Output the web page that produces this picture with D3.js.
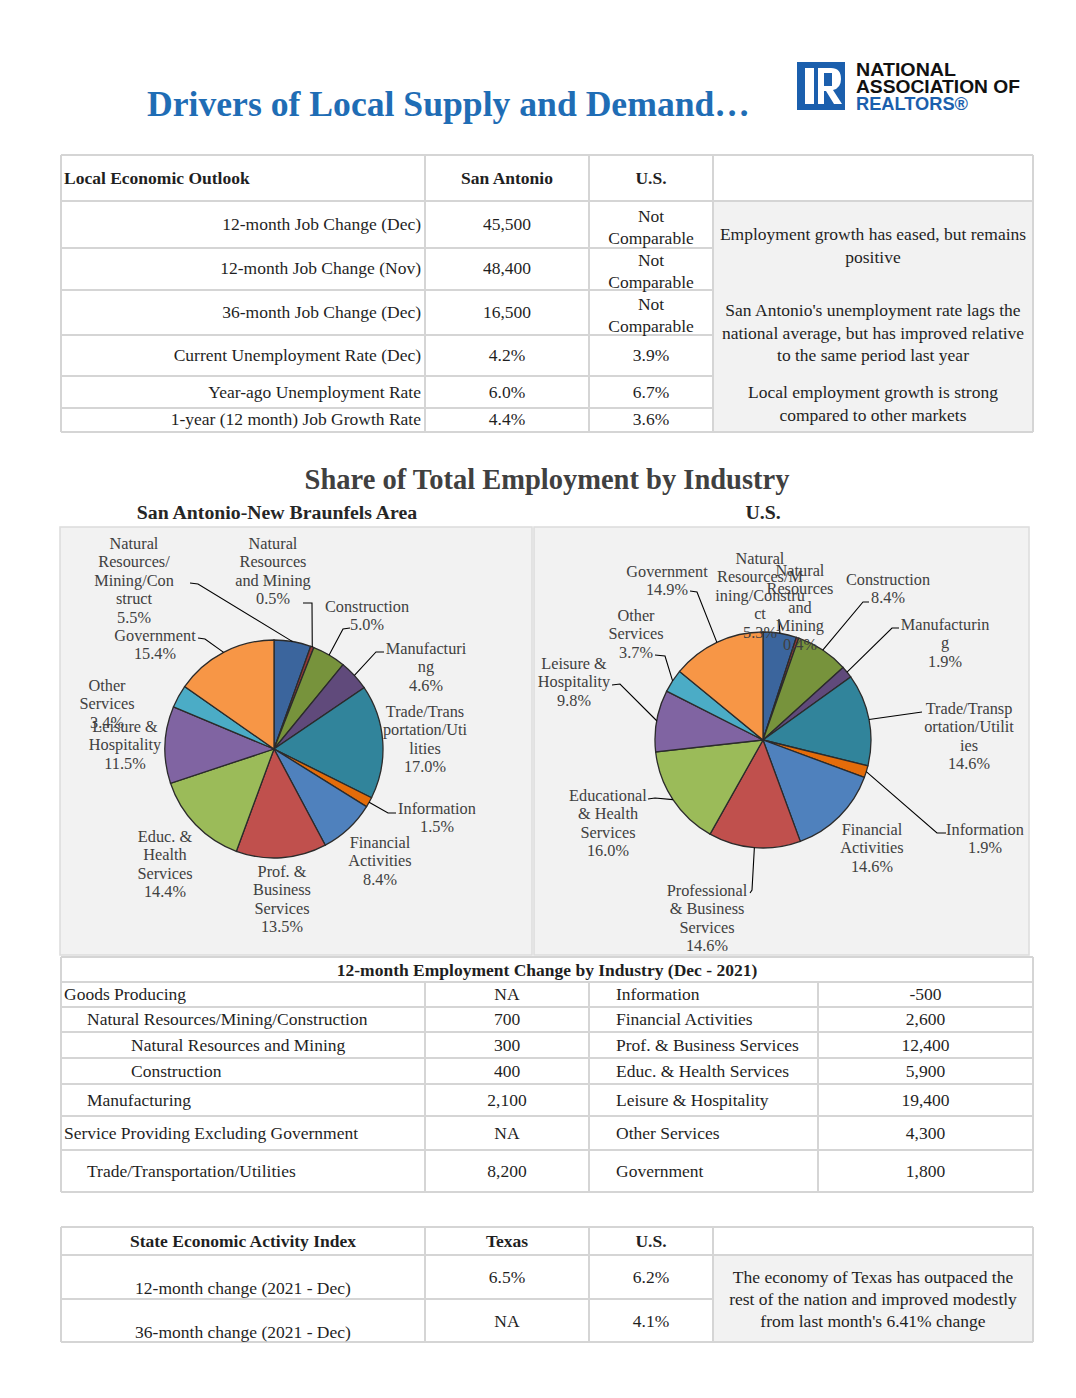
<!DOCTYPE html>
<html>
<head>
<meta charset="utf-8">
<script src="https://cdn.jsdelivr.net/npm/d3@7"></script>
<style>
  body { margin: 0; background: #fff; }
  svg text { font-family: "Liberation Serif", "Times New Roman", serif; }
</style>
</head>
<body>
<svg id="page" width="1076" height="1398"></svg>
<script>
/* Values (San Antonio, Dec 2021) */

const outlookHeader = ["Local Economic Outlook", "San Antonio", "U.S."];
const outlookLabels = ["12-month Job Change (Dec)", "12-month Job Change (Nov)", "36-month Job Change (Dec)",
  "Current Unemployment Rate (Dec)", "Year-ago Unemployment Rate", "1-year (12 month) Job Growth Rate"];
const outlookLocal = ["45,500", "48,400", "16,500", "4.2%", "6.0%", "4.4%"];
const outlookUS = ["Not Comparable", "Not Comparable", "Not Comparable", "3.9%", "6.7%", "3.6%"];
const outlookNotes = [
  ["Employment growth has eased, but remains", "positive"],
  ["San Antonio's unemployment rate lags the", "national average, but has improved relative", "to the same period last year"],
  ["Local employment growth is strong", "compared to other markets"]
];

const industries = ["Natural Resources/Mining/Construct", "Natural Resources and Mining", "Construction",
  "Manufacturing", "Trade/Transportation/Utilities", "Information", "Financial Activities",
  "Prof. & Business Services", "Educ. & Health Services", "Leisure & Hospitality", "Other Services", "Government"];
const saShare = [5.5, 0.5, 5.0, 4.6, 17.0, 1.5, 8.4, 13.5, 14.4, 11.5, 3.4, 15.4];
const usShare = [5.3, 0.4, 8.4, 1.9, 14.6, 1.9, 14.6, 14.6, 16.0, 9.8, 3.7, 14.9];
const sliceColors = ["#3b659d", "#953735", "#77933c", "#604a7b", "#31849b", "#e46c0a",
  "#4f81bd", "#c0504d", "#9bbb59", "#8064a2", "#4bacc6", "#f79646"];

// category names as they wrap inside each chart
const saNames = [["Natural", "Resources/", "Mining/Con", "struct"], ["Natural", "Resources", "and Mining"],
  ["Construction"], ["Manufacturi", "ng"], ["Trade/Trans", "portation/Uti", "lities"], ["Information"],
  ["Financial", "Activities"], ["Prof. &", "Business", "Services"], ["Educ. &", "Health", "Services"],
  ["Leisure &", "Hospitality"], ["Other", "Services"], ["Government"]];
const usNames = [["Natural", "Resources/M", "ining/Constru", "ct"], ["Natural", "Resources", "and", "Mining"],
  ["Construction"], ["Manufacturin", "g"], ["Trade/Transp", "ortation/Utilit", "ies"], ["Information"],
  ["Financial", "Activities"], ["Professional", "& Business", "Services"], ["Educational", "& Health", "Services"],
  ["Leisure &", "Hospitality"], ["Other", "Services"], ["Government"]];

const changeLeft = [["Goods Producing", "NA", 0], ["Natural Resources/Mining/Construction", "700", 1],
  ["Natural Resources and Mining", "300", 2], ["Construction", "400", 2], ["Manufacturing", "2,100", 1],
  ["Service Providing Excluding Government", "NA", 0], ["Trade/Transportation/Utilities", "8,200", 1]];
const changeRight = [["Information", "-500"], ["Financial Activities", "2,600"], ["Prof. & Business Services", "12,400"],
  ["Educ. & Health Services", "5,900"], ["Leisure & Hospitality", "19,400"], ["Other Services", "4,300"],
  ["Government", "1,800"]];

const stateHeader = ["State Economic Activity Index", "Texas", "U.S."];
const stateLabels = ["12-month change (2021 - Dec)", "36-month change (2021 - Dec)"];
const stateTexas = ["6.5%", "NA"];
const stateUS = ["6.2%", "4.1%"];
const stateNote = ["The economy of Texas has outpaced the", "rest of the nation and improved modestly", "from last month's 6.41% change"];

/* ---------- layout ---------- */
const svg = d3.select("#page");
const GRID = "#d5d5d5", NOTE_BG = "#f2f2f2", INK = "#1f1f1f";
const FS = 17.5;

svg.append("rect").attr("width", 1076).attr("height", 1398).attr("fill", "#fff");

// heading
svg.append("text").attr("x", 147).attr("y", 116)
  .attr("font-size", 36).attr("font-weight", "bold").attr("fill", "#1f6db5")
  .attr("textLength", 603).attr("lengthAdjust", "spacingAndGlyphs")
  .text("Drivers of Local Supply and Demand…");

// NAR logo
const logo = svg.append("g");
logo.append("rect").attr("x", 797).attr("y", 62).attr("width", 48).attr("height", 48).attr("fill", "#1b5fad");
logo.append("rect").attr("x", 805).attr("y", 68).attr("width", 9).attr("height", 36).attr("fill", "#fff");
logo.append("path").attr("fill", "#fff")
  .attr("d", "M818,68 H831 Q841,68 841,79 Q841,88 833,90 L842,104 H834 L826,91 H824 V104 H818 Z");
logo.append("rect").attr("x", 824).attr("y", 73).attr("width", 8).attr("height", 13).attr("fill", "#1b5fad");
[["NATIONAL", 76, "#111", 100], ["ASSOCIATION OF", 93, "#111", 164], ["REALTORS®", 110, "#1b5fad", 112]].forEach(([t, y, c, w]) => {
  logo.append("text").attr("x", 856).attr("y", y).attr("fill", c)
    .style("font-family", "'Liberation Sans', Arial, sans-serif")
    .attr("font-size", 18).attr("font-weight", "bold")
    .attr("textLength", w).attr("lengthAdjust", "spacingAndGlyphs").text(t);
});

function hline(x1, x2, y) {
  svg.append("line").attr("x1", x1).attr("x2", x2).attr("y1", y).attr("y2", y)
    .attr("stroke", GRID).attr("stroke-width", 2);
}
function vline(x, y1, y2) {
  svg.append("line").attr("x1", x).attr("x2", x).attr("y1", y1).attr("y2", y2)
    .attr("stroke", GRID).attr("stroke-width", 2);
}
function label(x, y, t, opts = {}) {
  return svg.append("text").attr("x", x).attr("y", y)
    .attr("font-size", opts.size || FS).attr("fill", opts.fill || INK)
    .attr("font-weight", opts.bold ? "bold" : null)
    .attr("text-anchor", opts.anchor || "start")
    .attr("dominant-baseline", "central").text(t);
}

/* ---------- table 1: local economic outlook ---------- */
const t1Cols = [61, 425, 589, 713, 1033];
const t1Rows = [155, 201, 248, 290, 335, 376, 408, 432];

svg.append("rect").attr("x", t1Cols[3]).attr("y", t1Rows[1])
  .attr("width", t1Cols[4] - t1Cols[3]).attr("height", t1Rows[7] - t1Rows[1]).attr("fill", NOTE_BG);
t1Rows.forEach((y, i) => {
  const full = i <= 1 || i === t1Rows.length - 1;
  hline(t1Cols[0], full ? t1Cols[4] : t1Cols[3], y);
});
t1Cols.forEach(x => vline(x, t1Rows[0], t1Rows[7]));

label(64, 178, outlookHeader[0], { bold: true });
label((t1Cols[1] + t1Cols[2]) / 2, 178, outlookHeader[1], { bold: true, anchor: "middle" });
label((t1Cols[2] + t1Cols[3]) / 2, 178, outlookHeader[2], { bold: true, anchor: "middle" });

const t1TextY = [224, 268, 312, 355, 392, 419];
outlookLabels.forEach((t, i) => {
  label(421, t1TextY[i], t, { anchor: "end" });
  label((t1Cols[1] + t1Cols[2]) / 2, t1TextY[i], outlookLocal[i], { anchor: "middle" });
  const us = outlookUS[i];
  if (us.includes(" ")) {
    const mid = (t1Rows[i + 1] + t1Rows[i + 2]) / 2;
    us.split(" ").forEach((w, k) => label((t1Cols[2] + t1Cols[3]) / 2, mid - 9 + k * 22, w, { anchor: "middle" }));
  } else {
    label((t1Cols[2] + t1Cols[3]) / 2, t1TextY[i], us, { anchor: "middle" });
  }
});
const noteTop = [234, 310, 392];
outlookNotes.forEach((lines, g) => {
  lines.forEach((t, k) => label((t1Cols[3] + t1Cols[4]) / 2, noteTop[g] + k * 22.5, t, { anchor: "middle" }));
});

/* ---------- pies ---------- */
label(547, 479, "Share of Total Employment by Industry", { size: 28.5, bold: true, anchor: "middle", fill: "#404040" });
label(277, 512, "San Antonio-New Braunfels Area", { size: 19.8, bold: true, anchor: "middle", fill: "#262626" });
label(763, 512, "U.S.", { size: 19.8, bold: true, anchor: "middle", fill: "#262626" });

svg.append("rect").attr("x", 60).attr("y", 527).attr("width", 472).attr("height", 428)
  .attr("fill", NOTE_BG).attr("stroke", "#dcdcdc").attr("stroke-width", 1.5);
svg.append("rect").attr("x", 534).attr("y", 527).attr("width", 495).attr("height", 428)
  .attr("fill", NOTE_BG).attr("stroke", "#dcdcdc").attr("stroke-width", 1.5);

// label anchor (centre x, first line y) and optional leader start / elbow
const saLayout = [
  { x: 134, y: 543, lead: [[190, 583], [198, 584]] },
  { x: 273, y: 543, lead: [[303, 603], [312, 603]] },
  { x: 367, y: 606, lead: [[350, 628], [343, 629]] },
  { x: 426, y: 648, lead: [[384, 652], [376, 652]] },
  { x: 425, y: 711 },
  { x: 437, y: 808, lead: [[396, 813], [388, 813]] },
  { x: 380, y: 842 },
  { x: 282, y: 871 },
  { x: 165, y: 836 },
  { x: 125, y: 726 },
  { x: 107, y: 685 },
  { x: 155, y: 635, lead: [[198, 638], [205, 639]] }
];
const usLayout = [
  { x: 760, y: 558, lead: [[779, 619], [779, 620]] },
  { x: 800, y: 570 },
  { x: 888, y: 579, lead: [[869, 602], [863, 602]] },
  { x: 945, y: 624, lead: [[899, 628], [892, 628]] },
  { x: 969, y: 708, lead: [[922, 712], [922, 712]] },
  { x: 985, y: 829, lead: [[946, 833], [937, 833]] },
  { x: 872, y: 829 },
  { x: 707, y: 890, lead: [[750, 893], [752, 890]] },
  { x: 608, y: 795, lead: [[648, 799], [655, 798]] },
  { x: 574, y: 663, lead: [[612, 685], [620, 684]] },
  { x: 636, y: 615, lead: [[655, 655], [665, 656]] },
  { x: 667, y: 571, lead: [[690, 591], [697, 592]] }
];

function drawPie(values, names, layout, cx, cy, r) {
  const arcs = d3.pie().sort(null).value(d => d)(values);
  const arc = d3.arc().innerRadius(0).outerRadius(r);
  const g = svg.append("g").attr("transform", `translate(${cx},${cy})`);
  g.selectAll("path").data(arcs).join("path")
    .attr("d", arc)
    .attr("fill", (d, i) => sliceColors[i])
    .attr("stroke", "#2b2b2b").attr("stroke-width", 1.3);

  arcs.forEach((a, i) => {
    const L = layout[i];
    if (L.lead) {
      const m = (a.startAngle + a.endAngle) / 2;
      const edge = [cx + r * Math.sin(m), cy - r * Math.cos(m)];
      svg.append("polyline")
        .attr("points", [L.lead[0], L.lead[1], edge].map(p => p.join(",")).join(" "))
        .attr("fill", "none").attr("stroke", "#000").attr("stroke-width", 1.1);
    }
    const lines = names[i].concat([d3.format(".1f")(values[i]) + "%"]);
    const t = svg.append("text").attr("text-anchor", "middle").attr("font-size", 16.3).attr("fill", "#404040");
    lines.forEach((s, k) => t.append("tspan").attr("x", L.x).attr("y", L.y + k * 18.6)
      .attr("dominant-baseline", "central").text(s));
  });
}
drawPie(saShare, saNames, saLayout, 274, 749, 109);
drawPie(usShare, usNames, usLayout, 763, 740, 108);

/* ---------- table 2: 12-month change by industry ---------- */
const t2Cols = [61, 425, 589, 818, 1033];
const t2Rows = [957, 982, 1007, 1032, 1058, 1084, 1116, 1150, 1192];
t2Rows.forEach(y => hline(t2Cols[0], t2Cols[4], y));
vline(t2Cols[0], t2Rows[0], t2Rows[8]);
vline(t2Cols[4], t2Rows[0], t2Rows[8]);
t2Cols.slice(1, 4).forEach(x => vline(x, t2Rows[1], t2Rows[8]));
label(547, 970, "12-month Employment Change by Industry (Dec - 2021)", { bold: true, anchor: "middle" });
const t2TextY = [994, 1019, 1045, 1071, 1100, 1133, 1171];
const indentX = [64, 87, 131];
changeLeft.forEach(([n, v, lvl], i) => {
  label(indentX[lvl], t2TextY[i], n);
  label((t2Cols[1] + t2Cols[2]) / 2, t2TextY[i], v, { anchor: "middle" });
});
changeRight.forEach(([n, v], i) => {
  label(616, t2TextY[i], n);
  label((t2Cols[3] + t2Cols[4]) / 2, t2TextY[i], v, { anchor: "middle" });
});

/* ---------- table 3: state economic activity index ---------- */
const t3Cols = [61, 425, 589, 713, 1033];
const t3Rows = [1227, 1255, 1299, 1342];
svg.append("rect").attr("x", t3Cols[3]).attr("y", t3Rows[1])
  .attr("width", t3Cols[4] - t3Cols[3]).attr("height", t3Rows[3] - t3Rows[1]).attr("fill", NOTE_BG);
hline(t3Cols[0], t3Cols[4], t3Rows[0]);
hline(t3Cols[0], t3Cols[4], t3Rows[1]);
hline(t3Cols[0], t3Cols[3], t3Rows[2]);
hline(t3Cols[0], t3Cols[4], t3Rows[3]);
t3Cols.forEach(x => vline(x, t3Rows[0], t3Rows[3]));
label((t3Cols[0] + t3Cols[1]) / 2, 1241, stateHeader[0], { bold: true, anchor: "middle" });
label((t3Cols[1] + t3Cols[2]) / 2, 1241, stateHeader[1], { bold: true, anchor: "middle" });
label((t3Cols[2] + t3Cols[3]) / 2, 1241, stateHeader[2], { bold: true, anchor: "middle" });
stateLabels.forEach((t, i) => {
  const top = t3Rows[i + 1];
  label((t3Cols[0] + t3Cols[1]) / 2, top + 33, t, { anchor: "middle" });
  label((t3Cols[1] + t3Cols[2]) / 2, top + 22, stateTexas[i], { anchor: "middle" });
  label((t3Cols[2] + t3Cols[3]) / 2, top + 22, stateUS[i], { anchor: "middle" });
});
stateNote.forEach((t, k) => label((t3Cols[3] + t3Cols[4]) / 2, 1277 + k * 22, t, { anchor: "middle" }));
</script>
</body>
</html>
